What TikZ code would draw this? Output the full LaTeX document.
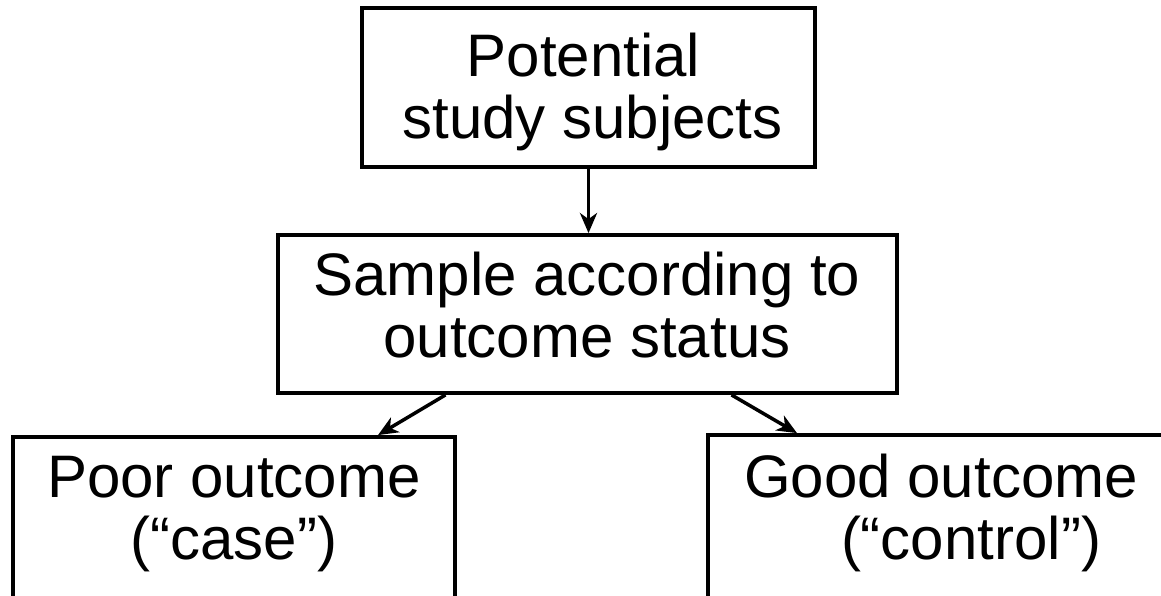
\documentclass[tikz,border=0pt]{standalone}
\usepackage{fontspec}
\setmainfont{Liberation Sans}
\usetikzlibrary{arrows.meta}
\begin{document}
\begin{tikzpicture}[x=1pt,y=-1pt,
  boxshape/.style={draw,line width=3.8pt,inner sep=0pt,rectangle},
  lbl/.style={font=\fontsize{60}{62}\selectfont,inner sep=0pt,anchor=base},
  conn/.style={line width=3.5pt,-{Stealth[length=20pt,width=17pt,inset=6pt]}}]
\useasboundingbox (0,0) rectangle (1161,596);
\clip (0,0) rectangle (1161,596);
% boxes
\node[boxshape,minimum width=453pt,minimum height=159pt] (top) at (588.5,87.5) {};
\node[boxshape,minimum width=619pt,minimum height=158pt] (mid) at (587.5,314) {};
\node[boxshape,minimum width=442pt,minimum height=262pt] (lbox) at (234,568) {};
\node[boxshape,minimum width=592pt,minimum height=265pt] (rbox) at (1004,567.5) {};
% texts
\node[lbl] (t1) at (583.5,77) {Potential};
\node[lbl] (t2) at (592.5,139) {study subjects};
\node[lbl] (m1) at (587,295) {Sample according to};
\node[lbl] (m2) at (587,357) {outcome status};
\node[lbl] (l1) at (234,497) {Poor outcome};
\node[lbl] (l2) at (234,559) {(“case”)};
\node[lbl] (r1) at (941,497) {Good outcome};
\node[lbl] (r2) at (971,559) {(“control”)};
% connectors
\draw[conn] (top.south) -- (top.south |- mid.north);
\draw[conn] ([xshift=-142pt]mid.south) -- ([xshift=144pt]lbox.north);
\draw[conn] ([xshift=144pt]mid.south) -- ([xshift=-207pt]rbox.north);
\end{tikzpicture}
\end{document}
